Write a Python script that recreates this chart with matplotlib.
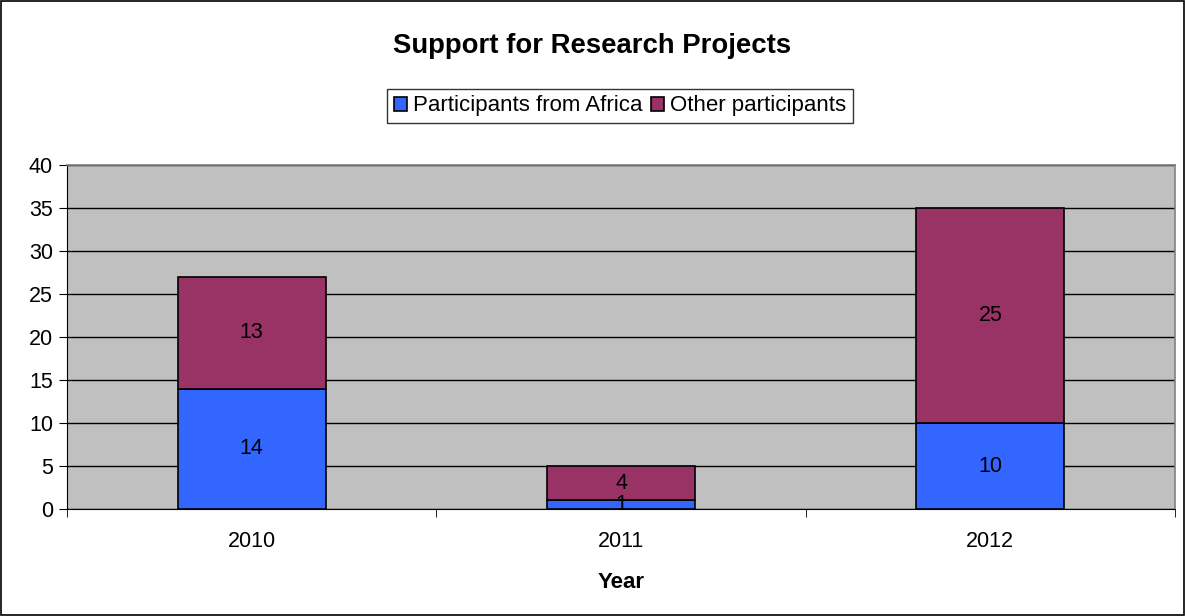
import numpy as np
import matplotlib.pyplot as plt
from matplotlib.patches import Rectangle

plt.rcParams['font.family'] = ['Liberation Sans', 'DejaVu Sans']

years = ['2010', '2011', '2012']
africa = [14, 1, 10]
other = [13, 4, 25]

fig = plt.figure(figsize=(11.85, 6.16), dpi=100)
ax = fig.add_axes([67/1185, 1-509/616, (1175-67)/1185, (509-165)/616])
ax.set_facecolor('#C0C0C0')

x = np.arange(len(years))
b1 = ax.bar(x, africa, width=0.4, color='#3366FF', edgecolor='black', linewidth=1.2, zorder=3,
            label='Participants from Africa')
b2 = ax.bar(x, other, width=0.4, bottom=africa, color='#993366', edgecolor='black', linewidth=1.2,
            zorder=3, label='Other participants')

for i in range(len(years)):
    ax.text(x[i], africa[i] / 2, str(africa[i]), ha='center', va='center', fontsize=15.5, zorder=4)
    ax.text(x[i], africa[i] + other[i] / 2, str(other[i]), ha='center', va='center', fontsize=15.5, zorder=4)

ax.set_ylim(0, 40)
ax.set_xlim(-0.5, 2.5)
ax.set_yticks(range(0, 41, 5))
ax.yaxis.grid(True, color='black', linewidth=1)
ax.set_axisbelow(True)

# category labels at centres, tick marks at boundaries
ax.set_xticks(x)
ax.set_xticklabels(years, fontsize=15.5)
ax.tick_params(axis='x', length=0, pad=16)
ax.set_xticks([-0.5, 0.5, 1.5, 2.5], minor=True)
ax.tick_params(axis='x', which='minor', length=6, color='black')
ax.tick_params(axis='y', labelsize=15.5, length=6, pad=4)

for side in ['top', 'right']:
    ax.spines[side].set_color('#808080')
    ax.spines[side].set_linewidth(1.2)
ax.spines['left'].set_color('black')
ax.spines['bottom'].set_color('black')

ax.set_xlabel('Year', fontsize=16, fontweight='bold', labelpad=14)

fig.text(0.5, 1-46/616, 'Support for Research Projects', ha='center', va='center',
         fontsize=19.8, fontweight='bold')

leg = fig.legend(handles=[b1, b2], loc='center', bbox_to_anchor=(620/1185, 1-106/616), ncol=2,
                 fontsize=16, frameon=True, fancybox=False, handlelength=0.6, handleheight=0.6,
                 handletextpad=0.25, columnspacing=0.4, borderpad=0.3, borderaxespad=0)
leg.get_frame().set_edgecolor('black')
leg.get_frame().set_linewidth(1)

fig.add_artist(Rectangle((0.001, 0.001), 0.998, 0.997, transform=fig.transFigure, fill=False,
                         edgecolor='black', linewidth=1.2))

fig.savefig('out.png', dpi=100)
